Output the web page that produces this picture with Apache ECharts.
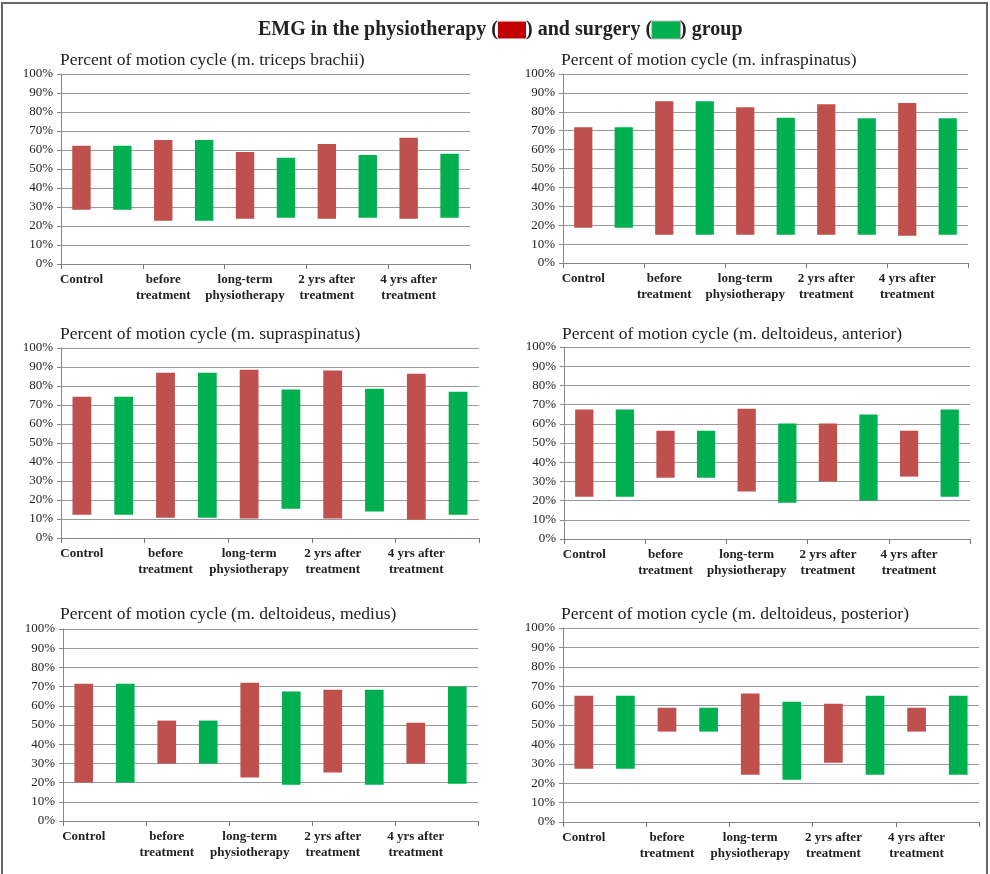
<!DOCTYPE html>
<html>
<head>
<meta charset="utf-8">
<script src="https://cdn.jsdelivr.net/npm/echarts@6/dist/echarts.min.js"></script>
<style>
    html, body {margin: 0; padding: 0; background: #fff;}
    #main {width: 990px; height: 874px;}
</style>
</head>
<body>
<div id="main"></div>
<script>
// category labels (one label for every pair of bars)
var groups = ['Control', 'before\ntreatment', 'long-term\nphysiotherapy', '2 yrs after\ntreatment', '4 yrs after\ntreatment'];
var panelTitles = [
    'Percent of motion cycle (m. triceps brachii)',
    'Percent of motion cycle (m. infraspinatus)',
    'Percent of motion cycle (m. supraspinatus)',
    'Percent of motion cycle (m. deltoideus, anterior)',
    'Percent of motion cycle (m. deltoideus, medius)',
    'Percent of motion cycle (m. deltoideus, posterior)'
];

// [start %, end %] of activity, per group
var tricepsPhysio  = [[28.5, 62.2], [22.8, 65.3], [23.8, 59.0], [23.8, 63.2], [23.8, 66.4]];
var tricepsSurgery = [[28.5, 62.2], [22.8, 65.3], [24.3, 55.9], [24.3, 57.4], [24.3, 58.0]];
var infraPhysio    = [[18.7, 71.8], [15.0, 85.6], [15.0, 82.4], [15.0, 84.0], [14.4, 84.7]];
var infraSurgery   = [[18.7, 71.8], [15.0, 85.6], [15.0, 76.8], [15.0, 76.6], [15.0, 76.6]];
var supraPhysio    = [[12.3, 74.4], [10.7, 87.0], [10.2, 88.6], [10.2, 88.1], [9.6, 86.5]];
var supraSurgery   = [[12.3, 74.4], [10.7, 87.0], [15.4, 78.1], [13.9, 78.6], [12.3, 77.0]];
var anteriorPhysio = [[22.0, 67.4], [31.9, 56.4], [24.7, 67.9], [29.9, 60.1], [32.5, 56.4]];
var anteriorSurgery= [[22.0, 67.4], [31.9, 56.4], [18.9, 60.1], [20.0, 64.8], [22.0, 67.4]];
var mediusPhysio   = [[20.0, 71.5], [29.9, 52.3], [22.6, 72.0], [25.2, 68.4], [29.9, 51.2]];
var mediusSurgery  = [[20.0, 71.5], [29.9, 52.3], [18.9, 67.4], [18.9, 68.4], [19.4, 70.0]];
var posteriorPhysio  = [[27.5, 65.1], [46.6, 58.9], [24.4, 66.2], [30.6, 61.0], [46.6, 58.9]];
var posteriorSurgery = [[27.5, 65.1], [46.6, 58.9], [21.8, 62.0], [24.4, 65.1], [24.4, 65.1]];

var physio = [tricepsPhysio, infraPhysio, supraPhysio, anteriorPhysio, mediusPhysio, posteriorPhysio];
var surgery = [tricepsSurgery, infraSurgery, supraSurgery, anteriorSurgery, mediusSurgery, posteriorSurgery];

var RED = '#C0504D';
var GREEN = '#00B050';
var FONT = '"Liberation Serif", "DejaVu Serif", serif';

var gridPos = [
    {left: 61, top: 74, width: 409, height: 190},
    {left: 563, top: 74, width: 405, height: 189},
    {left: 61, top: 348, width: 418, height: 190},
    {left: 564, top: 347, width: 406, height: 192},
    {left: 63, top: 629, width: 415, height: 192},
    {left: 563, top: 628, width: 416, height: 194}
];
var titlePos = [[60, 51], [561, 51], [60, 325], [562, 325], [60, 605], [561, 605]];

var categories = [];
for (var i = 0; i < groups.length; i++) {
    categories.push(groups[i]);
    categories.push('');
}

var titles = [{
    text: 'EMG in the physiotherapy ({r|}) and surgery ({g|}) group',
    left: 253,
    top: 15,
    textStyle: {
        fontFamily: FONT, fontSize: 20, fontWeight: 'bold', color: '#222',
        rich: {
            r: {backgroundColor: '#C00000', width: 28, height: 17},
            g: {backgroundColor: '#00B050', width: 28, height: 17, borderColor: '#bbb', borderWidth: 1}
        }
    }
}];
var grids = [], xAxes = [], yAxes = [], series = [];

for (var p = 0; p < 6; p++) {
    titles.push({
        text: panelTitles[p],
        left: titlePos[p][0],
        top: titlePos[p][1],
        padding: 0,
        textStyle: {fontFamily: FONT, fontSize: 17.5, fontWeight: 'normal', color: '#222'}
    });
    grids.push(gridPos[p]);
    xAxes.push({
        type: 'category',
        gridIndex: p,
        data: categories,
        axisLine: {lineStyle: {color: '#888'}},
        axisTick: {
            show: true, length: 5, lineStyle: {color: '#777'},
            interval: function (index) { return index % 2 === 0; }
        },
        axisLabel: {
            interval: 0, margin: 8, color: '#222',
            fontFamily: FONT, fontSize: 13, fontWeight: 'bold', lineHeight: 16
        }
    });
    yAxes.push({
        type: 'value',
        gridIndex: p,
        min: 0, max: 100, interval: 10,
        axisLine: {show: true, lineStyle: {color: '#888'}},
        axisTick: {show: true, length: 4, lineStyle: {color: '#888'}},
        splitLine: {lineStyle: {color: '#999'}},
        axisLabel: {formatter: '{value}%', margin: 8, color: '#222', fontFamily: FONT, fontSize: 13}
    });

    var base = [], span = [];
    for (var k = 0; k < groups.length; k++) {
        base.push(physio[p][k][0]);
        span.push(+(physio[p][k][1] - physio[p][k][0]).toFixed(1));
        base.push(surgery[p][k][0]);
        span.push(+(surgery[p][k][1] - surgery[p][k][0]).toFixed(1));
    }
    series.push({
        type: 'bar', xAxisIndex: p, yAxisIndex: p, stack: 'p' + p,
        data: base, barWidth: '45%', silent: true,
        itemStyle: {color: 'transparent'}
    });
    series.push({
        type: 'bar', xAxisIndex: p, yAxisIndex: p, stack: 'p' + p,
        data: span, barWidth: '45%',
        itemStyle: {
            color: function (params) {
                return params.dataIndex % 2 === 0 ? RED : GREEN;
            }
        }
    });
}

var myChart = echarts.init(document.getElementById('main'));
var option = {
    backgroundColor: '#fff',
    animation: false,
    title: titles,
    grid: grids,
    xAxis: xAxes,
    yAxis: yAxes,
    series: series,
    graphic: [{
        type: 'rect',
        shape: {x: 2, y: 3, width: 985, height: 880},
        style: {fill: 'none', stroke: '#666', lineWidth: 2},
        silent: true
    }]
};
myChart.setOption(option);
</script>
</body>
</html>
